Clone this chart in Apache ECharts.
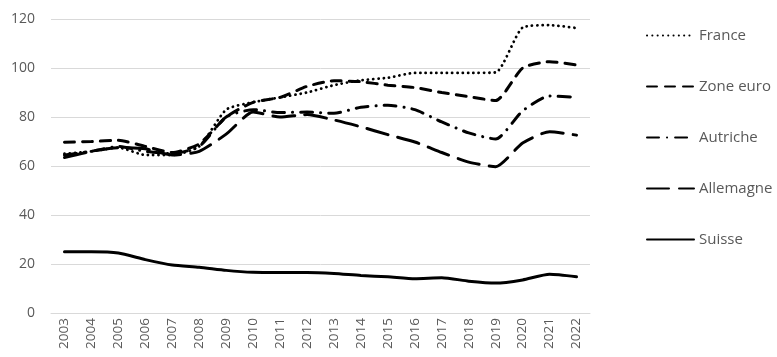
<!DOCTYPE html>
<html><head><meta charset="utf-8">
<script src="https://cdn.jsdelivr.net/npm/echarts@6/dist/echarts.min.js"></script>
<style>html,body{margin:0;padding:0;background:#fff}#c{width:777px;height:357px}</style>
</head><body><div id="c"></div>
<script>
const years = ['2003','2004','2005','2006','2007','2008','2009','2010','2011','2012','2013','2014','2015','2016','2017','2018','2019','2020','2021','2022'];
const france    = [65, 66, 67.5, 64.5, 64.5, 68, 83, 86, 88, 90, 93, 95, 96, 98, 98, 98, 98.2, 116.5, 117.5, 116.3];
const zoneEuro  = [69.7, 70, 70.5, 68, 65.5, 69, 80, 86, 88, 92.5, 94.8, 94.4, 93, 92, 90, 88.3, 86.7, 100, 102.6, 101.2];
const autriche  = [64.5, 66, 68, 66, 65, 68, 80, 83, 81.8, 82, 81.5, 84, 84.8, 83, 78, 73.5, 71, 82.5, 88.6, 88];
const allemagne = [63.5, 66, 67.5, 67, 64.5, 66, 73, 82, 80, 81, 78.8, 76, 72.8, 69.8, 65.5, 61.6, 59.7, 69.4, 74, 72.6];
const suisse    = [25, 25, 24.5, 21.8, 19.6, 18.7, 17.4, 16.6, 16.5, 16.5, 16.1, 15.3, 14.8, 14, 14.4, 13, 12.2, 13.5, 15.8, 14.8];
const yTicks = [0, 20, 40, 60, 80, 100, 120];

const chart = echarts.init(document.getElementById('c'), null, {renderer:'canvas'});
const mk = (name, data, type, width) => ({
  name, type:'line', data, smooth:0.2, showSymbol:false, symbol:'none',
  lineStyle:{color:'#000', width, type, cap:'round'},
  itemStyle:{color:'#000'}
});
chart.setOption({
  animation:false,
  textStyle:{fontFamily:'"Open Sans", sans-serif'},
  grid:{left:51, right:187, top:19, bottom:44},
  xAxis:{type:'category', data:years, boundaryGap:true,
    axisLine:{show:true, lineStyle:{color:'#d9d9d9'}}, axisTick:{show:false},
    axisLabel:{rotate:90, color:'#595959', fontSize:13.5, margin:5, interval:0}},
  yAxis:{type:'value', min:yTicks[0], max:yTicks[yTicks.length-1], interval:20,
    axisLine:{show:false}, axisTick:{show:false},
    splitLine:{lineStyle:{color:'#d9d9d9', width:1}},
    axisLabel:{color:'#595959', fontSize:14, margin:16}},
  legend:{orient:'vertical', left:641, top:23, itemWidth:47, itemHeight:14, itemGap:36,
    itemStyle:{opacity:0},
    textStyle:{color:'#595959', fontSize:15},
    data:['France','Zone euro','Autriche','Allemagne','Suisse']},
  series:[
    mk('France', france, [0.1, 5.2], 2.8),
    mk('Zone euro', zoneEuro, [10, 8], 3),
    mk('Autriche', autriche, [12, 8, 0.1, 8], 3),
    mk('Allemagne', allemagne, [22, 10], 3),
    mk('Suisse', suisse, 'solid', 3)
  ]
});
</script></body></html>
